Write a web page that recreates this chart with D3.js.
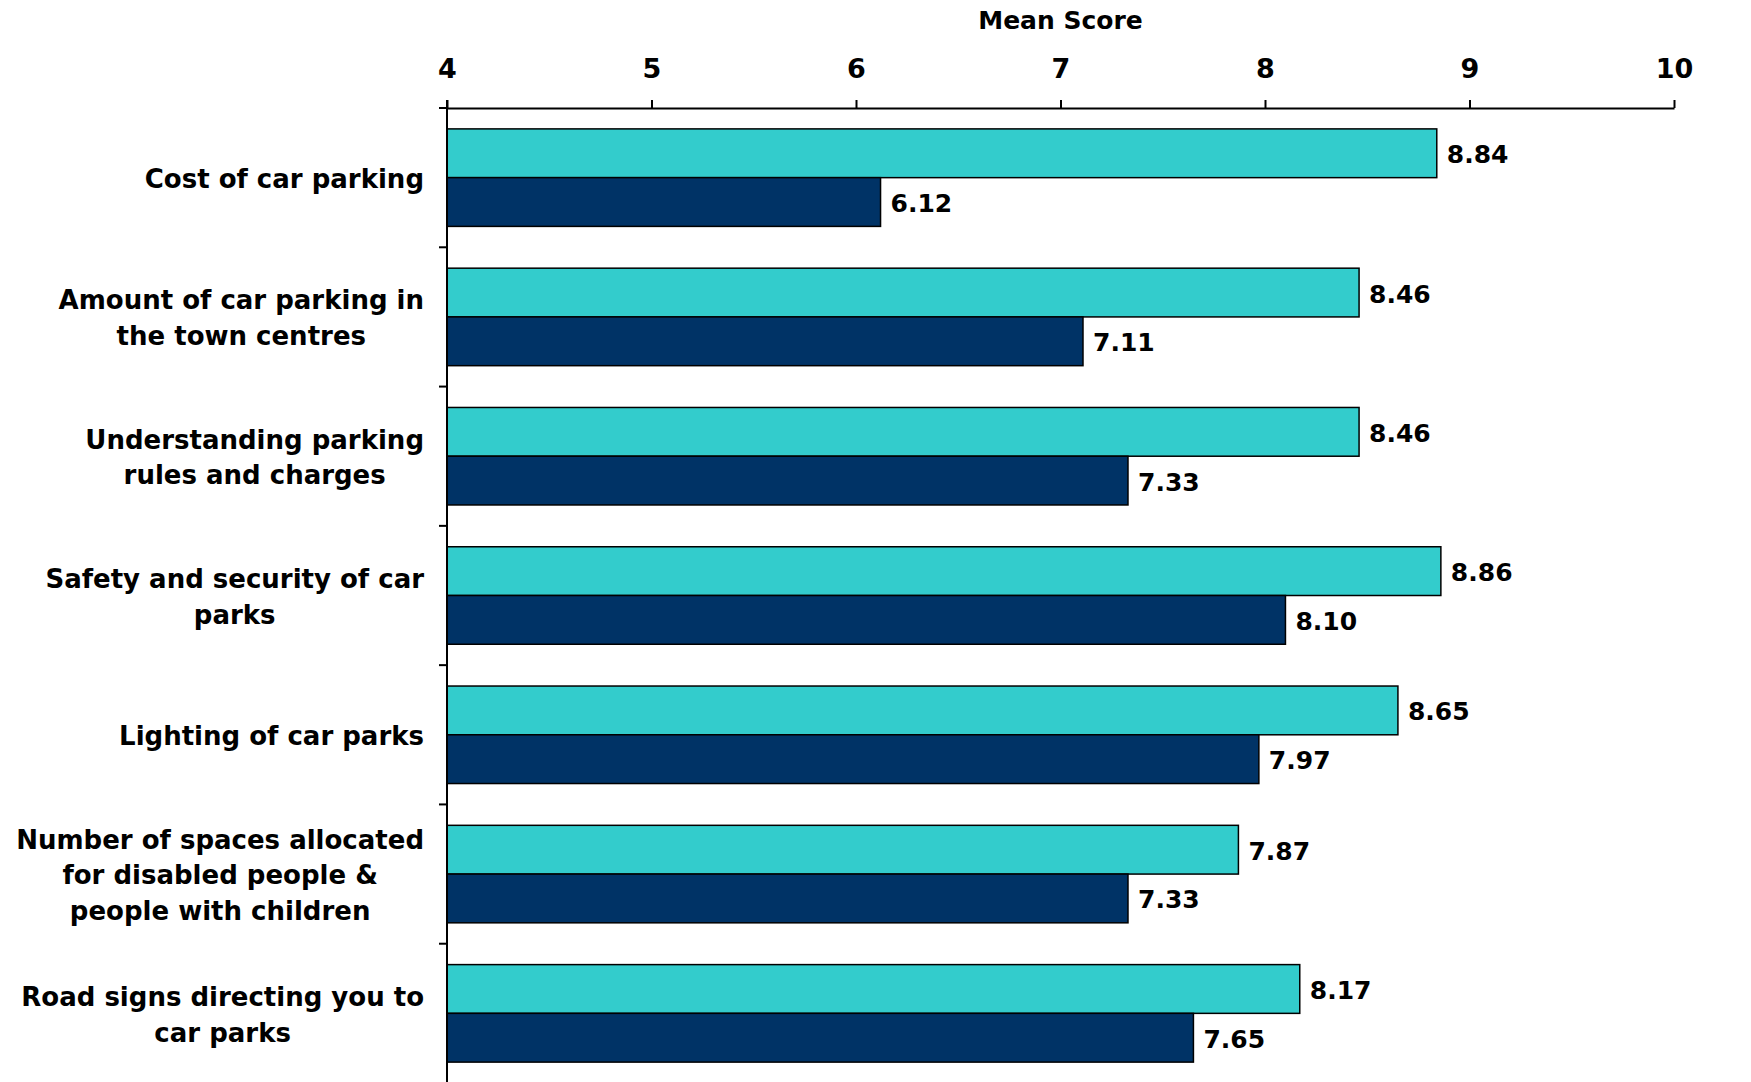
<!DOCTYPE html>
<html>
<head>
<meta charset="utf-8">
<script src="https://cdn.jsdelivr.net/npm/d3@7"></script>
<style>
  html, body { margin: 0; padding: 0; background: #ffffff; }
  svg { display: block; }
  text { font-family: "DejaVu Sans", Verdana, sans-serif; font-weight: bold; fill: #000; }
</style>
</head>
<body>
<svg id="chart" width="1751" height="1082"></svg>
<script>
// ---- data ----
const categories = [
  ["Cost of car parking"],
  ["Amount of car parking in", "the town centres"],
  ["Understanding parking", "rules and charges"],
  ["Safety and security of car", "parks"],
  ["Lighting of car parks"],
  ["Number of spaces allocated", "for disabled people &", "people with children"],
  ["Road signs directing you to", "car parks"]
];
const seriesNames = ["Series 1", "Series 2"];
const series1 = [8.84, 8.46, 8.46, 8.86, 8.65, 7.87, 8.17];
const series2 = [6.12, 7.11, 7.33, 8.10, 7.97, 7.33, 7.65];
const xTicks = [4, 5, 6, 7, 8, 9, 10];
const xTitle = "Mean Score";
const seriesColors = ["#33CCCC", "#003366"];

// ---- layout ----
const svg = d3.select("#chart");
const mLeft = 447, mRight = 1674, mTop = 108, mBottom = 1083;

const x = d3.scaleLinear().domain([4, 10]).range([mLeft, mRight]);
const idx = categories.map((d, i) => i);
const y = d3.scaleBand().domain(idx).range([mTop, mBottom]).paddingInner(0.3).paddingOuter(0.15);
const sub = d3.scaleBand().domain([0, 1]).range([0, y.bandwidth()]);

const seriesData = [series1, series2];

// bars
seriesData.forEach((vals, s) => {
  svg.append("g").selectAll("rect").data(vals).join("rect")
    .attr("x", x(4))
    .attr("y", (d, i) => y(i) + sub(s))
    .attr("width", d => x(d) - x(4))
    .attr("height", sub.bandwidth())
    .attr("fill", seriesColors[s])
    .attr("stroke", "#000")
    .attr("stroke-width", 1.5);
  svg.append("g").selectAll("text").data(vals).join("text")
    .attr("x", d => x(d) + 10)
    .attr("y", (d, i) => y(i) + sub(s) + sub.bandwidth() / 2)
    .attr("dy", "0.4em")
    .attr("font-size", 25)
    .text(d => d.toFixed(2));
});

// top axis
const xAxis = d3.axisTop(x).tickValues(xTicks).tickFormat(d3.format("d"))
  .tickSize(8).tickPadding(22).tickSizeOuter(0);
const gx = svg.append("g").attr("transform", `translate(0,${mTop})`).call(xAxis);
gx.select(".domain").attr("stroke", "#000").attr("stroke-width", 2);
gx.selectAll(".tick line").attr("stroke", "#000").attr("stroke-width", 2);
gx.selectAll(".tick text").attr("font-size", 27).attr("font-family", "DejaVu Sans, sans-serif").attr("font-weight", "bold").attr("fill", "#000");

svg.append("text")
  .attr("x", (mLeft + mRight) / 2)
  .attr("y", 29)
  .attr("text-anchor", "middle")
  .attr("font-size", 25)
  .text(xTitle);

// left axis line
svg.append("line")
  .attr("x1", mLeft).attr("x2", mLeft)
  .attr("y1", mTop - 8).attr("y2", mBottom)
  .attr("stroke", "#000").attr("stroke-width", 2);

// category boundary ticks
const boundaries = idx.map(i => y(i) - y.step() * y.paddingInner() / 2);
boundaries[0] = mTop;
svg.append("g").selectAll("line").data(boundaries).join("line")
  .attr("x1", mLeft - 8).attr("x2", mLeft)
  .attr("y1", d => d).attr("y2", d => d)
  .attr("stroke", "#000").attr("stroke-width", 2);

// category labels
const lineH = 35.7;
const labelRight = 424;
categories.forEach((lines, i) => {
  const g = svg.append("g");
  const cy = y(i) + y.bandwidth() / 2;
  const texts = g.selectAll("text").data(lines).join("text")
    .attr("font-size", 26)
    .attr("text-anchor", "middle")
    .attr("dy", "0.4em")
    .attr("y", (d, j) => cy + (j - (lines.length - 1) / 2) * lineH)
    .text(d => d);
  let w = 0;
  texts.each(function() { w = Math.max(w, this.getComputedTextLength()); });
  texts.attr("x", labelRight - w / 2);
});
</script>
</body>
</html>
